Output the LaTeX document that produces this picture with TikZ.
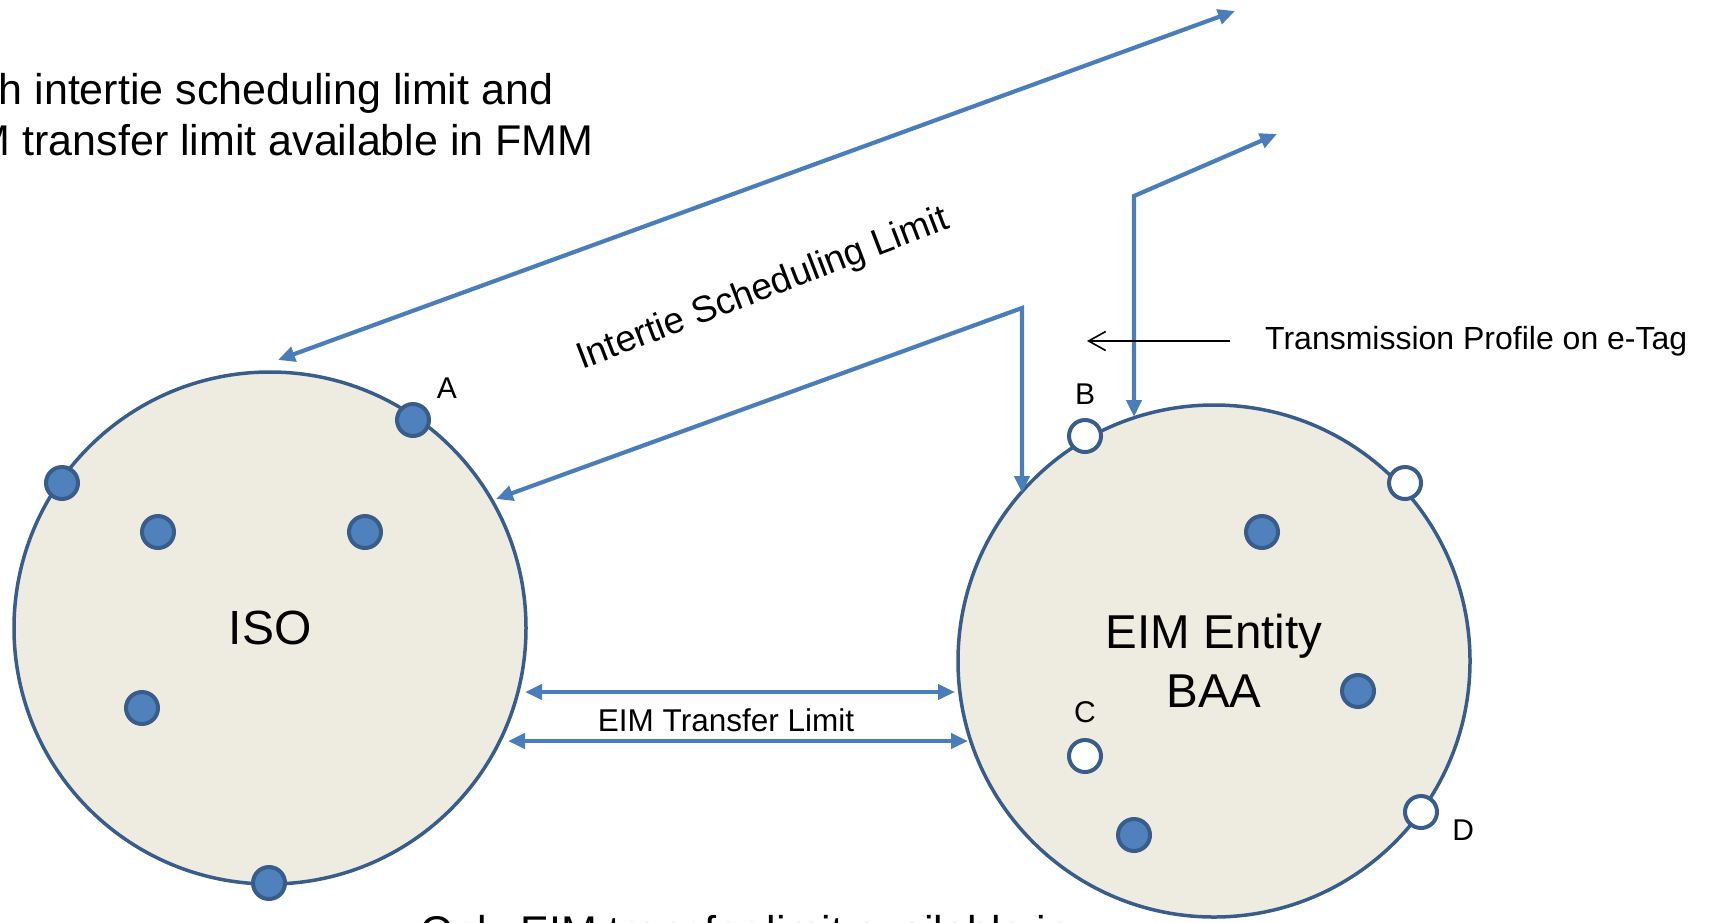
\documentclass[tikz,border=0pt]{standalone}
\usepackage{fontspec}
\setmainfont{Liberation Sans}
\usetikzlibrary{arrows.meta}
\usetikzlibrary{positioning}
\definecolor{regionfill}{HTML}{EEECE1}
\definecolor{regionline}{HTML}{385D8A}
\definecolor{dotblue}{HTML}{4F81BD}
\definecolor{linkblue}{HTML}{4A7EBB}
\tikzset{
    region/.style = {circle, line width=3.5pt, draw=regionline, fill=regionfill, minimum size=512pt, inner sep=0pt, align=center},
    busf/.style = {circle, line width=4pt, draw=regionline, fill=dotblue, minimum size=32pt, inner sep=0pt},
    buso/.style = {circle, line width=4pt, draw=regionline, fill=white, minimum size=32pt, inner sep=0pt},
    lbl/.style = {font=\fontsize{30}{36}\selectfont, inner sep=0pt},
    note/.style = {font=\fontsize{43}{51}\selectfont, inner sep=0pt, anchor=base west},
    limtxt/.style = {font=\fontsize{31.5}{38}\selectfont, inner sep=0pt},
    limline/.style = {draw=linkblue, line width=4.2pt, <->, >={Triangle[length=17pt,width=15pt]}},
    ptr/.style = {draw=black, line width=1.6pt, -{Straight Barb[length=17pt,width=19pt]}},
}

\begin{document}
\begin{tikzpicture}[x=1pt, y=-1pt]
  \useasboundingbox (0,0) rectangle (1710,922);

  % notes, partly cut off by the page
  \node[note] (noteA) at (-66,104) {Both intertie scheduling limit and};
  \node[note] (noteB) at ([yshift=-51.5pt]noteA.base west) {EIM transfer limit available in FMM};
  \node[note] (noteC) at (420,946) {Only EIM transfer limit available in};

  % the two areas
  \node[region, font=\fontsize{48}{58}\selectfont] (iso) at (270,628) {ISO};
  \node[region, font=\fontsize{47.5}{59}\selectfont] (baa) at (1214,661) {EIM Entity\\BAA};

  % ISO buses
  \node[busf, label={[lbl,label distance=14pt]42:A}] (isoA) at (413,420) {};
  \node[busf] (iso2) at (62,483) {};
  \node[busf] (iso3) at (158,532) {};
  \node[busf] (iso4) at (365,532) {};
  \node[busf] (iso5) at (142,708) {};
  \node[busf] (iso6) at (269,883) {};

  % EIM entity buses
  \node[buso, label={[lbl,label distance=13pt]90:B}] (baaB) at (1085,436) {};
  \node[buso] (baa2) at (1405,483) {};
  \node[busf] (baa3) at (1262,532) {};
  \node[busf] (baa4) at (1358,691) {};
  \node[buso, label={[lbl,label distance=15pt]90:C}] (baaC) at (1085,756) {};
  \node[busf] (baa5) at (1134,835) {};
  \node[buso, label={[lbl,label distance=14pt]-14:D}] (baaD) at (1421,812) {};

  \coordinate (schedIso) at (278,360);
  \coordinate (schedOut) at (1235,11);
  \coordinate (tieIso) at (496,499);
  \coordinate (tieBend) at (1022,308);
  \coordinate (tieBaa) at (1022,493);
  \coordinate (tagBaa) at (1134,417);
  \coordinate (tagBend) at (1134,196);
  \coordinate (tagOut) at (1277,134);
  \coordinate (xferIsoA) at (525,692);
  \coordinate (xferBaaA) at (955,692);
  \coordinate (xferIsoB) at (508,741);
  \coordinate (xferBaaB) at (968,741);

  \draw[limline] (schedIso) -- (schedOut);
  \draw[limline] (tieIso) -- (tieBend) -- (tieBaa);
  \draw[limline] (tagBaa) -- (tagBend) -- (tagOut);
  \draw[limline] (xferIsoA) -- (xferBaaA);
  \draw[limline] (xferIsoB) -- (xferBaaB);

  \node[limtxt, font=\fontsize{37}{44}\selectfont, rotate=21] (schedTxt) at (763,290) {Intertie Scheduling Limit};
  \node[limtxt] (xferTxt) at (726,720) {EIM Transfer Limit};

  \node[limtxt, font=\fontsize{32}{38}\selectfont, anchor=west] (tagTxt) at (1265,341) {Transmission Profile on e-Tag};
  \coordinate (tagTip) at (1087,341);
  \draw[ptr] ([xshift=-35pt]tagTxt.west) -- (tagTip);
\end{tikzpicture}
\end{document}
